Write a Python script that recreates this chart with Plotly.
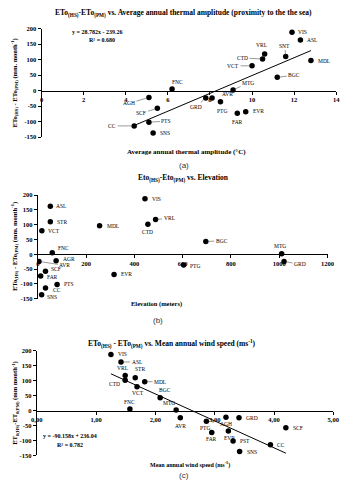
import plotly.graph_objects as go

W, H = 348, 485

# ---------------- data ----------------
a_names = ["VIS", "ASL", "VRL", "CTD", "SNT", "VCT", "MDL", "BGC", "FNC", "MTG",
           "AGH", "GRD", "AVR", "SCF", "PTG", "FAR", "EVR", "PTS", "CC", "SNS"]
a_x = [11.9, 12.3, 10.6, 10.5, 11.6, 10.0, 12.8, 11.2, 6.2, 9.1,
       5.1, 7.8, 8.1, 5.5, 8.5, 9.3, 9.7, 5.1, 4.4, 5.3]
a_y = [188, 163, 118, 102, 110, 80, 97, 43, 5, 2,
       -22, -24, -24, -57, -36, -73, -68, -102, -114, -137]
a_slope, a_intercept = 28.782, -239.26

b_names = ["VIS", "ASL", "STR", "VCT", "MDL", "CTD", "VRL", "BGC", "FNC", "MTG",
           "GRD", "PTG", "EVR", "AGR", "AVR", "SCF", "FAR", "PTS", "CC", "SNS"]
b_x = [444, 52, 52, 17, 256, 456, 488, 696, 60, 1010,
       1020, 604, 316, 76, 5, 32, 12, 80, 32, 16]
b_y = [188, 163, 110, 80, 97, 102, 118, 43, 5, 2,
       -24, -36, -68, -22, -24, -57, -73, -102, -114, -137]

c_names = ["VIS", "ASL", "VRL", "CTD", "STR", "MDL", "VCT", "BGC", "FNC", "MTG",
           "AVR", "PTG", "FAR", "AGH", "GRD", "EVR", "PST", "SNS", "CC", "SCF"]
c_x = [1.25, 1.42, 1.49, 1.49, 1.66, 1.82, 1.69, 2.08, 1.57, 2.35,
       2.42, 2.86, 2.95, 3.19, 3.41, 3.23, 3.31, 3.42, 3.94, 4.20]
c_y = [188, 163, 118, 102, 110, 97, 80, 43, 5, 2,
       -24, -36, -73, -22, -24, -68, -102, -137, -114, -57]
c_slope, c_intercept = -90.158, 236.04

y_tickvals = [-150, -100, -50, 0, 50, 100, 150, 200]
y_ticktext = ["-150", "-100", "-50", "0", "50", "100", "150", "200"]
a_xtickvals = [0, 2, 4, 6, 8, 10, 12, 14]
b_xtickvals = [0, 200, 400, 600, 800, 1000, 1200]
c_xtickvals = [0, 1, 2, 3, 4, 5]
c_xticktext = ["0,00", "1,00", "2,00", "3,00", "4,00", "5,00"]

# ---------------- label placement (style) ----------------
# name: (dx, dy, mode) ; mode 'l' = left anchored text, 'c' = centered text, 'k' = leader line
a_lab = {"VIS": (4, 0, "l"), "ASL": (5, 0, "l"), "VRL": (-3, 9, "c"), "CTD": (-20, 1, "k"),
         "SNT": (-1, 11, "k"), "VCT": (-19, 0, "k"), "MDL": (5, 0, "l"), "BGC": (17, 2, "k"),
         "FNC": (5, 7, "c"), "MTG": (15, 7, "k"), "AGH": (-20, -6, "k"), "GRD": (-10, -9, "k"),
         "AVR": (15, 4, "c"), "SCF": (-16, -5, "k"), "PTG": (2, -9, "c"), "FAR": (0, -9, "c"),
         "EVR": (5, 1, "l"), "PTS": (17, 1, "k"), "CC": (-22, 0, "k"), "SNS": (5, 0, "l")}
b_lab = {"VIS": (5, 0, "l"), "ASL": (4, 0, "l"), "STR": (5, 0, "l"), "VCT": (4, 0, "l"),
         "MDL": (5, 0, "l"), "CTD": (0, -8, "c"), "VRL": (14, 1, "k"), "BGC": (16, 1, "k"),
         "FNC": (11, 5, "c"), "MTG": (-2, 8, "c"), "GRD": (16, -3, "k"), "PTG": (4, -1, "l"),
         "EVR": (5, 0, "l"), "AGR": (5, 2, "l"), "AVR": (26, -4, "k"), "SCF": (4, 2, "l"),
         "FAR": (4, -1, "l"), "PTS": (5, 0, "l"), "CC": (6, -2, "l"), "SNS": (3, -2, "l")}
c_lab = {"VIS": (5, 0, "l"), "ASL": (16, 0, "k"), "VRL": (-2, 7, "c"), "CTD": (-11, -4, "c"),
         "STR": (5, 9, "c"), "MDL": (16, 0, "k"), "VCT": (1, -6, "c"), "BGC": (5, 8, "c"),
         "FNC": (0, 7, "c"), "MTG": (-7, 7, "c"), "AVR": (0, -8, "c"), "PTG": (-1, -7, "c"),
         "FAR": (0, -7, "c"), "AGH": (0, -7, "c"), "GRD": (5, 0, "l"), "EVR": (1, -7, "c"),
         "PST": (5, 0, "l"), "SNS": (5, 0, "l"), "CC": (5, 0, "l"), "SCF": (5, 0, "l")}

SERIF = "Liberation Serif, Times New Roman, serif"
SANS = "Liberation Sans, Arial, sans-serif"


def dom_x(x0, x1):
    return [x0 / W, x1 / W]


def dom_y(top, bottom):
    return [1 - bottom / H, 1 - top / H]


panels = [
    dict(names=a_names, x=a_x, y=a_y, lab=a_lab, xd=dom_x(37, 343), yd=dom_y(25, 135),
         xr=[0, 14], xt=a_xtickvals, xtt=[str(v) for v in a_xtickvals],
         fit=(a_slope, a_intercept)),
    dict(names=b_names, x=b_x, y=b_y, lab=b_lab, xd=dom_x(33, 334), yd=dom_y(194, 299),
         xr=[0, 1200], xt=b_xtickvals, xtt=[str(v) for v in b_xtickvals], fit=None),
    dict(names=c_names, x=c_x, y=c_y, lab=c_lab, xd=dom_x(32, 340), yd=dom_y(352, 458),
         xr=[0, 5], xt=c_xtickvals, xtt=c_xticktext, fit=(c_slope, c_intercept)),
]

fig = go.Figure()
annotations = []
yr = [-150, 200]

for i, p in enumerate(panels):
    k = "" if i == 0 else str(i + 1)
    xa, ya = "x" + k, "y" + k
    if p["fit"] is not None:
        s, b0 = p["fit"]
        xs = [min(p["x"]), max(p["x"])]
        fig.add_trace(go.Scatter(x=xs, y=[s * v + b0 for v in xs], mode="lines",
                                 line=dict(color="black", width=1), xaxis=xa, yaxis=ya,
                                 showlegend=False, hoverinfo="skip"))
    fig.add_trace(go.Scatter(x=p["x"], y=p["y"], mode="markers",
                             marker=dict(color="black", size=5.5), xaxis=xa, yaxis=ya,
                             showlegend=False))
    zero_pos = p["yd"][0] + (0 - yr[0]) / (yr[1] - yr[0]) * (p["yd"][1] - p["yd"][0])
    axis_common = dict(showgrid=False, zeroline=False, showline=True, linecolor="black",
                       linewidth=1, ticks="outside", ticklen=3, tickcolor="black",
                       tickfont=dict(family=SERIF, size=6.5, color="black", weight="bold"),
                       layer="below traces")
    fig.update_layout(**{
        "xaxis" + k: dict(domain=p["xd"], range=p["xr"], anchor="free", position=zero_pos,
                          tickmode="array", tickvals=p["xt"], ticktext=p["xtt"], **axis_common),
        "yaxis" + k: dict(domain=p["yd"], range=yr, anchor=xa, tickmode="array",
                          tickvals=y_tickvals, ticktext=y_ticktext, **axis_common),
    })
    for n, xv, yv in zip(p["names"], p["x"], p["y"]):
        dx, dy, mode = p["lab"][n]
        base = dict(x=xv, y=yv, xref=xa, yref=ya, text=n,
                    font=dict(family=SERIF, size=5.5, color="black"))
        if mode == "k":
            annotations.append(dict(**base, showarrow=True, ax=dx, ay=-dy, arrowhead=0,
                                    arrowwidth=0.6, arrowcolor="#555555", standoff=2))
        else:
            annotations.append(dict(**base, showarrow=False, xshift=dx, yshift=dy,
                                    xanchor="left" if mode == "l" else "center",
                                    yanchor="middle"))


def txt(x, y, text, size, family=SERIF, bold=True, angle=0, color="black"):
    annotations.append(dict(x=x / W, y=1 - y / H, xref="paper", yref="paper", text=text,
                            showarrow=False, textangle=angle, xanchor="center",
                            yanchor="middle",
                            font=dict(family=family, size=size, color=color,
                                      weight="bold" if bold else "normal")))


# titles
txt(184, 10, "ETo<sub>(HS)</sub>-ETo<sub>(PM)</sub> vs. Average annual thermal amplitude "
             "(proximity to the the sea)", 7.5)
txt(184, 177, "Eto<sub>(HS)</sub>-Eto<sub>(PM)</sub> vs. Elevation", 7.5)
txt(172, 345, "ETo<sub>(HS)</sub> - ETo<sub>(PM)</sub> vs. Mean annual wind speed (ms<sup>-1</sup>)", 7.5)

# y titles
txt(9, 80, "ETo<sub>(HS)</sub> - ETo<sub>(PM)</sub> (mm. month<sup>-1</sup>)", 6.5, angle=-90)
txt(9, 246, "ETo<sub>(HS)</sub> - ETo<sub>(PM)</sub> (mm. month<sup>-1</sup>)", 6.5, angle=-90)
txt(9, 405, "ET<sub>0(HS)</sub>-ET<sub>0(PM)</sub> (mm month<sup>-1</sup>)", 6.5, angle=-90)

# x titles
txt(187, 150, "Average annual thermal amplitude (°C)", 7)
txt(156, 304, "Elevation (meters)", 6.5)
txt(191, 467, "Mean annual wind speed (ms<sup>-1</sup>)", 6)

# equations
txt(95, 28, "y = 28.782x - 239.26", 6)
txt(100, 37, "R² = 0.680", 6)
txt(66, 438, "y = -90.158x + 236.04", 6)
txt(66, 447, "R² = 0.782", 6)

# captions
txt(185, 164, "(a)", 8, family=SANS, bold=False, color="#333333")
txt(158, 321, "(b)", 8, family=SANS, bold=False, color="#333333")
txt(185, 478, "(c)", 8, family=SANS, bold=False, color="#333333")

fig.update_layout(width=W, height=H, margin=dict(l=0, r=0, t=0, b=0),
                  paper_bgcolor="white", plot_bgcolor="white",
                  annotations=annotations, showlegend=False)

fig.write_html("out.html", config={"displayModeBar": False},
               post_script="document.body.style.margin='0';")
